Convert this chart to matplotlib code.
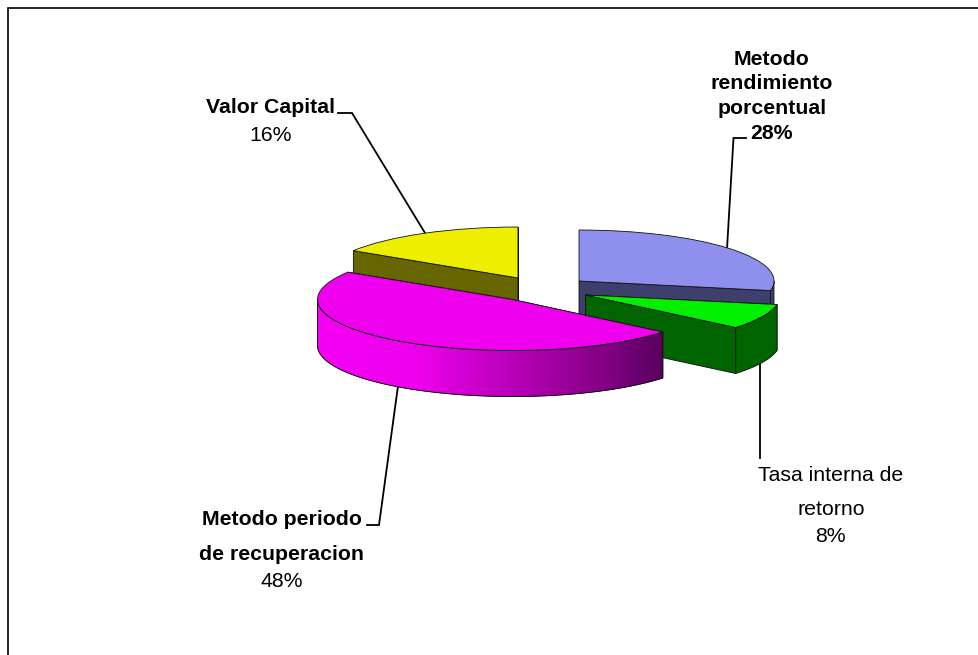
import numpy as np
import matplotlib
matplotlib.use("Agg")
import matplotlib.pyplot as plt
from matplotlib.colors import LinearSegmentedColormap
from matplotlib.patches import Polygon
from matplotlib.transforms import Affine2D

# ---- data ----
categories = ["Metodo rendimiento porcentual", "Tasa interna de retorno",
              "Metodo periodo de recuperacion", "Valor Capital"]
values = [28, 8, 48, 16]
label_lines = [["Metodo", "rendimiento", "porcentual"],
               ["Tasa interna de", "retorno"],
               ["Metodo periodo", "de recuperacion"],
               ["Valor Capital"]]

# ---- style / layout (pixels) ----
W, H = 979, 655
RX, RY, DEPTH = 195, 51, 46
centres = [(579, 281), (585.5, 295), (512.5, 299.5), (518, 278)]
top_cols = ["#8F8FEE", "#00F000", "#EE00EE", "#EEEE00"]
side_cols = ["#3F3F6E", "#006400", "#EE00EE", "#666600"]
draw_order = [3, 0, 1, 2]
label_bold = [True, False, True, True]
# text anchors: centre x, baseline y
label_pos = [[(772, 65), (772, 89), (772, 114), (772, 139)],
             [(831, 481), (831, 515), (830, 542)],
             [(282, 525), (282, 560), (282, 587)],
             [(271, 113), (271, 141)]]
leaders = [[(746, 138), (733.5, 138), (727, 249)],
           [(760, 362), (760, 458)],
           [(398, 386), (379, 525), (367, 525)],
           [(338, 113), (352, 113), (425, 233)]]
FS = 15.3
FONT = "Liberation Sans"
EDGE = dict(edgecolor="#111111", linewidth=0.6)

fig = plt.figure(figsize=(W / 100, H / 100), dpi=100, facecolor="white")
ax = fig.add_axes([0, 0, 1, 1])
wedges, _ = ax.pie(values, startangle=90, counterclock=False)
ax.set_aspect("auto")
ax.set_xlim(0, W)
ax.set_ylim(H, 0)
ax.axis("off")


def rim(c, theta):
    t = np.radians(theta)
    return np.column_stack([c[0] + RX * np.cos(t), c[1] - RY * np.sin(t)])


for z, i in enumerate(draw_order):
    w, c = wedges[i], centres[i]
    base = 10 + z * 5
    # radial walls at both ends of the slice, the one further back first
    corners = sorted((rim(c, np.array([th]))[0] for th in (w.theta1, w.theta2)),
                     key=lambda pt: pt[1])
    for corner in corners:
        wall = np.array([c, corner, corner + (0, DEPTH), (c[0], c[1] + DEPTH)])
        ax.add_patch(Polygon(wall, closed=True, facecolor=side_cols[i], zorder=base, **EDGE))
    # outer curved wall: only the part of the rim that faces the viewer
    lo, hi = max(w.theta1, -180), min(w.theta2, 0)
    if hi > lo:
        arc = rim(c, np.linspace(lo, hi, 120))
        poly = np.vstack([arc, arc[::-1] + (0, DEPTH)])
        p = Polygon(poly, closed=True, facecolor=side_cols[i], zorder=base + 1, **EDGE)
        ax.add_patch(p)
        if i == 2:  # magenta slice has a horizontal gradient on its wall
            cmap = LinearSegmentedColormap.from_list(
                "shade", [(0, "#F400F4"), (0.28, "#EE00EE"), (0.62, "#AE00AE"),
                          (0.85, "#800080"), (1, "#58005E")])
            x0, x1 = poly[:, 0].min(), poly[:, 0].max()
            y0, y1 = poly[:, 1].min(), poly[:, 1].max()
            im = ax.imshow(np.linspace(0, 1, 256)[None, :], cmap=cmap, aspect="auto",
                           extent=(x0, x1, y1, y0), zorder=base + 1.5)
            clip = Polygon(poly, closed=True, transform=ax.transData, fill=False,
                           zorder=base + 1.6, **EDGE)
            ax.add_patch(clip)
            im.set_clip_path(clip)
    # top face from the pie wedge itself
    w.set_transform(Affine2D().scale(RX, -RY).translate(*c) + ax.transData)
    w.set(facecolor=top_cols[i], zorder=base + 2, **EDGE)
ax.set_xlim(0, W)
ax.set_ylim(H, 0)

# leader lines
for pts in leaders:
    xs, ys = zip(*pts)
    ax.plot(xs, ys, color="black", lw=1.3, zorder=5, solid_joinstyle="miter")

# labels
for i, lines in enumerate(label_lines):
    pos = label_pos[i]
    for line, (x, y) in zip(lines, pos):
        ax.text(x, y, line, ha="center", va="baseline", fontsize=FS, family=FONT,
                fontweight="bold" if label_bold[i] else "normal", color="black", zorder=60)
    x, y = pos[-1]
    ax.text(x, y, f"{values[i]}%", ha="center", va="baseline", fontsize=FS, family=FONT,
            fontweight="bold" if i == 0 else "normal", color="black", zorder=60)

# chart frame: only top and left edges fall in the picture
ax.plot([8, 8, W], [H, 7.5, 7.5], color="black", lw=1.2, zorder=70, solid_joinstyle="miter")

fig.savefig("out.png", dpi=100, facecolor="white")
